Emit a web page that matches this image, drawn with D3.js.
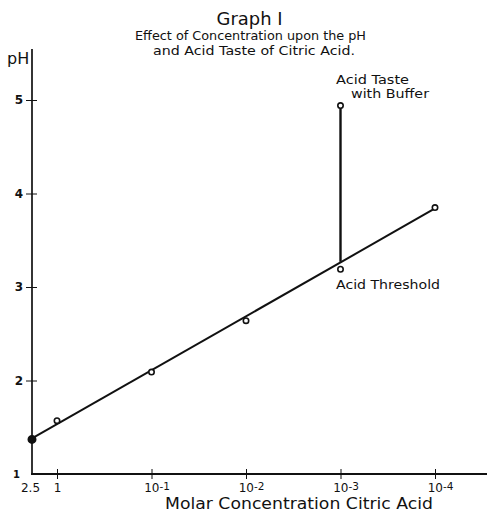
<!DOCTYPE html>
<html>
<head>
<meta charset="utf-8">
<script src="https://cdn.jsdelivr.net/npm/d3@7"></script>
<style>
  html, body { margin: 0; padding: 0; background: #fff; }
  svg { display: block; }
  text { font-family: "DejaVu Sans", sans-serif; fill: #111; }
</style>
</head>
<body>
<svg id="chart" width="487" height="513"></svg>
<script>
// ---- data ----
const concentrations = [2.5, 1, 0.1, 0.01, 0.001, 0.0001];   // molar
const phValues       = [1.37, 1.57, 2.09, 2.64, 3.19, 3.85];
const filledPoint    = [true, false, false, false, false, false];
const fitLineConc    = [2.5, 0.0001];
const fitLinePH      = [1.38, 3.84];
const bufferConc     = 0.001;
const bufferPH       = 4.94;
const thresholdPH    = 3.27;   // where the vertical meets the fitted line
const xTickConc      = [2.5, 1, 0.1, 0.01, 0.001, 0.0001];
const xTickBase      = ["2.5", "1", "10", "10", "10", "10"];
const xTickExp       = ["", "", "-1", "-2", "-3", "-4"];
const yTicks         = [1, 2, 3, 4, 5];

// ---- scales ----
const svg = d3.select("#chart");
const negLog = c => -Math.log10(c);
const x = d3.scaleLinear()
  .domain([negLog(2.5), 0, 4])
  .range([32, 57, 435]);
const y = d3.scaleLinear().domain([1, 5]).range([474, 100]);

// ---- axes ----
svg.append("line")
  .attr("x1", 32).attr("x2", 32)
  .attr("y1", y(1)).attr("y2", 49)
  .attr("stroke", "#111").attr("stroke-width", 1.7);
svg.append("line")
  .attr("x1", 31).attr("x2", 487)
  .attr("y1", y(1)).attr("y2", y(1))
  .attr("stroke", "#111").attr("stroke-width", 1.9);

const yAxis = svg.append("g")
  .attr("transform", "translate(32,0)")
  .call(d3.axisLeft(y).tickValues(yTicks).tickSize(6).tickFormat(d3.format("d")));
yAxis.select(".domain").remove();
yAxis.selectAll(".tick line").attr("x1", -6).attr("x2", 5).attr("stroke", "#111").attr("stroke-width", 1);
yAxis.selectAll(".tick text")
  .attr("x", -9).attr("font-size", 12).attr("font-weight", "bold")
  .style("font-family", "DejaVu Sans, sans-serif");
yAxis.selectAll(".tick").filter(d => d === 1).select("line").remove();
yAxis.selectAll(".tick").filter(d => d === 1).select("text").attr("x", -12).attr("font-size", 10);

const xAxis = svg.append("g")
  .attr("transform", `translate(0,${y(1)})`)
  .call(d3.axisBottom(x).tickValues(xTickConc.map(negLog)).tickSize(5).tickFormat(() => ""));
xAxis.select(".domain").remove();
xAxis.selectAll(".tick line").attr("y1", -5).attr("y2", 5).attr("stroke", "#111").attr("stroke-width", 1);
xAxis.selectAll(".tick").filter((d, i) => i === 0).select("line").remove();
xAxis.selectAll(".tick text").each(function(d, i) {
  const t = d3.select(this).attr("y", 18).attr("dy", 0).attr("font-size", 12)
    .style("font-family", "DejaVu Sans, sans-serif");
  t.text(null);
  t.append("tspan").text(xTickBase[i]);
  if (xTickExp[i]) {
    t.append("tspan").attr("dy", -2).attr("font-size", 10.5).text(xTickExp[i]);
    t.attr("transform", "translate(5,0)");
  }
});
xAxis.selectAll(".tick").filter((d, i) => i === 0).select("text").attr("transform", "translate(-2,0)");

// ---- fitted line ----
const line = d3.line().x(d => x(negLog(d[0]))).y(d => y(d[1]));
svg.append("path")
  .datum(fitLineConc.map((c, i) => [c, fitLinePH[i]]))
  .attr("d", line)
  .attr("fill", "none").attr("stroke", "#111").attr("stroke-width", 2);

svg.append("line")
  .attr("x1", x(negLog(bufferConc))).attr("x2", x(negLog(bufferConc)))
  .attr("y1", y(thresholdPH)).attr("y2", y(bufferPH))
  .attr("stroke", "#111").attr("stroke-width", 2.4);

// ---- points ----
const pts = concentrations.map((c, i) => ({c, ph: phValues[i], filled: filledPoint[i]}));
pts.push({c: bufferConc, ph: bufferPH, filled: false});
svg.selectAll("circle.pt").data(pts).join("circle")
  .attr("class", "pt")
  .attr("cx", d => x(negLog(d.c))).attr("cy", d => y(d.ph))
  .attr("r", d => d.filled ? 3.7 : 2.7)
  .attr("fill", d => d.filled ? "#111" : "#fff")
  .attr("stroke", "#111").attr("stroke-width", 1.6);

// ---- text ----
function label(txt, xPos, yPos, size, len, anchor) {
  return svg.append("text").attr("x", xPos).attr("y", yPos)
    .attr("text-anchor", anchor || "start").attr("font-size", size)
    .attr("textLength", len).attr("lengthAdjust", "spacingAndGlyphs").text(txt);
}
label("Graph I", 249.5, 25, 17, 66, "middle");
label("Effect of Concentration upon the pH", 250.5, 40, 12.5, 231, "middle");
label("and Acid Taste of Citric Acid.", 254, 55, 12.5, 202, "middle");
svg.append("text").attr("x", 7).attr("y", 64).attr("font-size", 16).text("pH");
label("Acid Taste", 336, 84, 11.5, 73);
label("with Buffer", 351, 98, 11.5, 78);
label("Acid Threshold", 336, 289, 13, 104);
label("Molar Concentration Citric Acid", 299, 509, 16.5, 268, "middle");
</script>
</body>
</html>
